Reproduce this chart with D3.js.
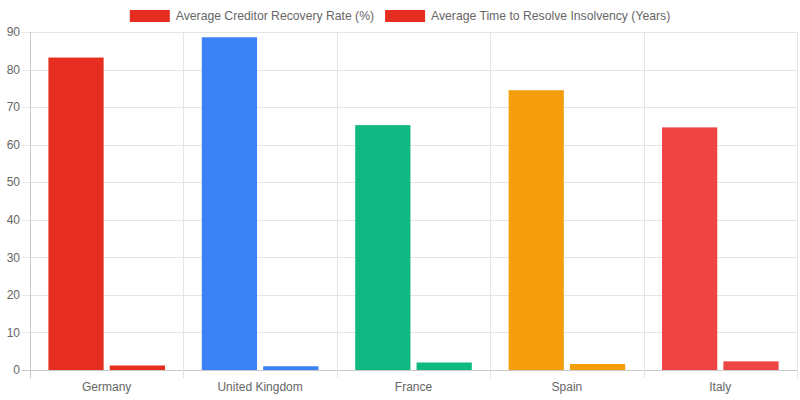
<!DOCTYPE html>
<html>
<head>
<meta charset="utf-8">
<script src="https://cdn.jsdelivr.net/npm/d3@7"></script>
<style>
  body { margin: 0; background: #fff; }
  svg { display: block; font-family: "Liberation Sans", Arial, Helvetica, sans-serif; }
</style>
</head>
<body>
<div id="chart"></div>
<script>
const countries = ["Germany", "United Kingdom", "France", "Spain", "Italy"];
const seriesNames = ["Average Creditor Recovery Rate (%)", "Average Time to Resolve Insolvency (Years)"];
const recoveryRate = [83.2, 88.6, 65.2, 74.5, 64.6];
const resolveYears = [1.2, 1.0, 2.0, 1.6, 2.3];
const barColors = ["#e52e1f", "#3b82f6", "#10b981", "#f59e0b", "#ef4444"];
const yTicks = [0, 10, 20, 30, 40, 50, 60, 70, 80, 90];

const width = 800, height = 400;
const margin = { top: 32, right: 3, bottom: 30, left: 30 };

const svg = d3.select("#chart").append("svg")
	.attr("width", width)
	.attr("height", height);

const x0 = d3.scaleBand()
	.domain(countries)
	.range([margin.left, width - margin.right])
	.padding(0);

/* chart.js style: categoryPercentage .8, barPercentage .9 */
const x1 = d3.scaleBand()
	.domain([0, 1])
	.range([x0.bandwidth() * 0.1, x0.bandwidth() * 0.9])
	.paddingInner(0.1)
	.paddingOuter(0.05);

const y = d3.scaleLinear()
	.domain([0, 90])
	.range([height - margin.bottom, margin.top]);

const grid = svg.append("g").attr("class", "grid");

/* horizontal grid */
grid.selectAll(".hline")
	.data(yTicks)
	.enter()
	.append("line")
		.attr("x1", margin.left - 8)
		.attr("x2", width - margin.right)
		.attr("y1", (d) => Math.round(y(d)) + 0.5)
		.attr("y2", (d) => Math.round(y(d)) + 0.5)
		.attr("stroke", (d) => d === 0 ? "#c8c8c8" : "#e5e5e5")
		.attr("stroke-width", 1);

/* vertical grid at category edges */
const edges = countries.map((c) => x0(c)).concat([width - margin.right]);
grid.selectAll(".vline")
	.data(edges)
	.enter()
	.append("line")
		.attr("x1", (d) => Math.round(d) + 0.5)
		.attr("x2", (d) => Math.round(d) + 0.5)
		.attr("y1", margin.top)
		.attr("y2", height - margin.bottom + 8)
		.attr("stroke", (d, i) => i === 0 ? "#c8c8c8" : "#e5e5e5")
		.attr("stroke-width", 1);

const data = countries.map((c, i) => ({ country: c, values: [recoveryRate[i], resolveYears[i]], color: barColors[i] }));

const groups = svg.append("g").attr("class", "bars")
	.selectAll("g")
	.data(data)
	.enter()
	.append("g")
		.attr("transform", (d) => `translate(${x0(d.country)},0)`);

groups.selectAll("rect")
	.data((d) => d.values.map((v, k) => ({ k: k, v: v, color: d.color })))
	.enter()
	.append("rect")
		.attr("x", (d) => x1(d.k))
		.attr("width", x1.bandwidth())
		.attr("y", (d) => y(d.v))
		.attr("height", (d) => y(0) - y(d.v))
		.attr("fill", (d) => d.color);

/* y labels */
svg.append("g").selectAll("text")
	.data(yTicks)
	.enter()
	.append("text")
		.attr("x", margin.left - 10)
		.attr("y", (d) => y(d))
		.attr("dy", "0.35em")
		.attr("text-anchor", "end")
		.attr("font-size", "12px")
		.attr("fill", "#666")
		.text((d) => d);

/* x labels */
svg.append("g").selectAll("text")
	.data(countries)
	.enter()
	.append("text")
		.attr("x", (d) => x0(d) + x0.bandwidth() / 2)
		.attr("y", height - margin.bottom + 17)
		.attr("dy", "0.35em")
		.attr("text-anchor", "middle")
		.attr("font-size", "12px")
		.attr("fill", "#666")
		.text((d) => d);

/* legend, centered, swatch takes first bar colour */
const legend = svg.append("g").attr("class", "legend");
const items = legend.selectAll("g")
	.data(seriesNames)
	.enter()
	.append("g");

items.append("rect")
	.attr("width", 40)
	.attr("height", 12)
	.attr("y", 10)
	.attr("fill", barColors[0]);

items.append("text")
	.attr("x", 46)
	.attr("y", 16)
	.attr("dy", "0.35em")
	.attr("font-size", "12.2px")
	.attr("fill", "#666")
	.text((d) => d);

const widths = [];
items.each(function() {
	widths.push(46 + d3.select(this).select("text").node().getComputedTextLength());
});
const gap = 11;
const total = d3.sum(widths) + gap * (widths.length - 1);
let cx = (width - total) / 2;
items.attr("transform", (d, i) => {
	const t = `translate(${cx},0)`;
	cx += widths[i] + gap;
	return t;
});
</script>
</body>
</html>
